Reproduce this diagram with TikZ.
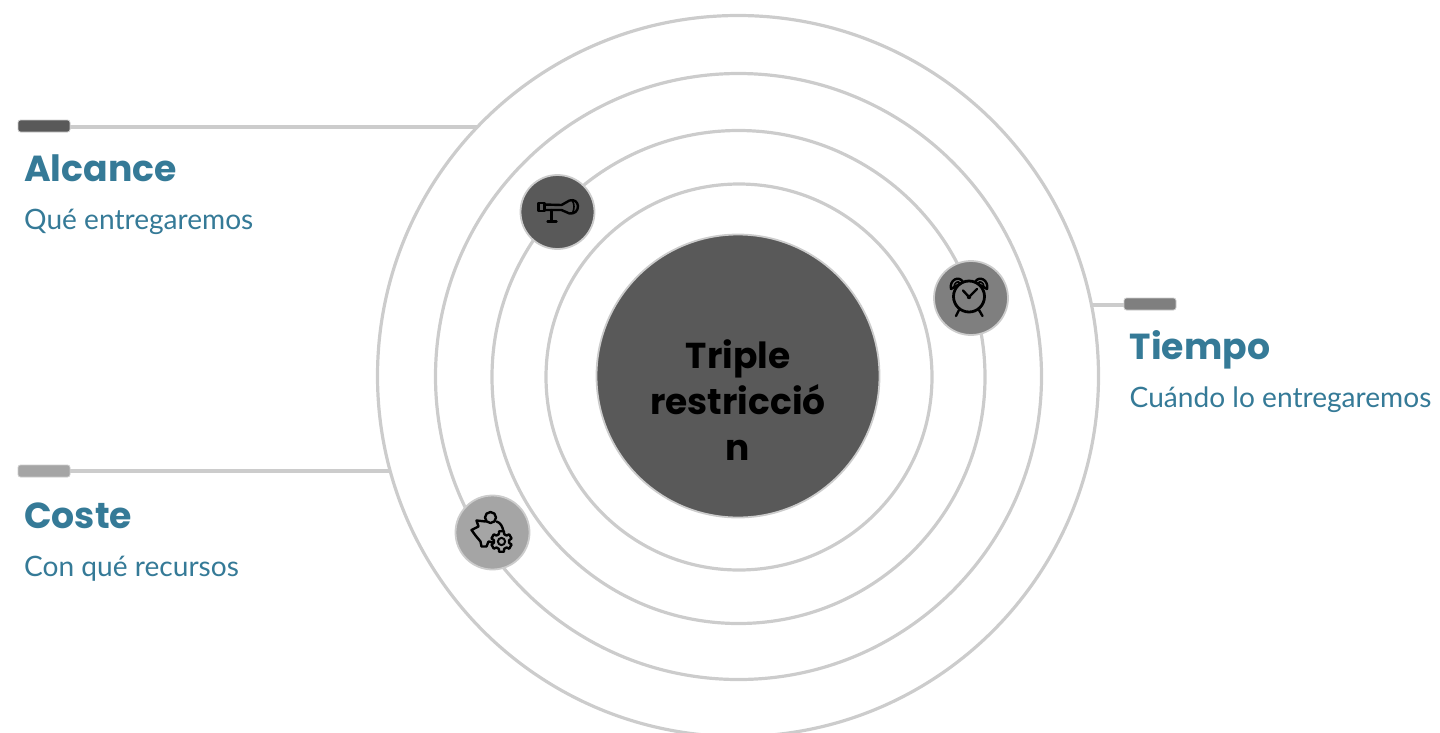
\documentclass[tikz,border=0pt]{standalone}
\usepackage{fontspec}
\setmainfont{Lato}
\newfontfamily\pop{Poppins}[BoldFont={Poppins Bold}]
\definecolor{ringc}{HTML}{CCCCCC}
\definecolor{darkg}{HTML}{595959}
\definecolor{midg}{HTML}{7F7F7F}
\definecolor{lightg}{HTML}{A5A5A5}
\definecolor{teal}{HTML}{357A97}
\tikzset{
  ring/.style={circle,draw=ringc,line width=3.2pt,minimum size=#1,inner sep=0pt},
  badge/.style={circle,draw=ringc,line width=1.8pt,minimum size=74pt,inner sep=0pt,fill=#1},
  tab/.style={rounded corners=2.5pt,draw=ringc,line width=0.8pt,fill=#1,minimum width=52pt,minimum height=12pt,inner sep=0pt},
  conn/.style={draw=ringc,line width=3.2pt},
  head/.style={anchor=base west,inner sep=0pt,text=teal,font=\pop\bfseries\fontsize{36.2}{40}\selectfont},
  sub/.style={anchor=base west,inner sep=0pt,text=teal,font=\fontsize{28.1}{32}\selectfont},
  ico/.style={draw=black,line width=2.4pt,line cap=round,line join=round}
}
\begin{document}
\begin{tikzpicture}[x=1pt,y=-1pt]
\useasboundingbox (0,0) rectangle (1440,732);
\begin{scope}
\clip (0,0) rectangle (1440,732);
\node[ring=721pt] (r4) at (738,376) {};
\node[ring=606pt] (r3) at (738.5,376.5) {};
\node[ring=493pt] (r2) at (738.5,377) {};
\node[ring=386pt] (r1) at (739,377) {};
\end{scope}
\node[circle,draw=ringc,line width=1.8pt,fill=darkg,minimum size=283pt,inner sep=0pt] (core) at (738,376) {};
\node[align=center,inner sep=0pt,font=\pop\bfseries\fontsize{36}{46}\selectfont,text=black] (corelabel) at (738,400) {Triple\\[0pt]restricció\\[0pt]n};

\coordinate (e1) at (477,127);
\coordinate (e2) at (391,471);
\coordinate (e3) at (1092,305);
\node[tab=darkg] (t1) at (44,126) {};
\node[tab=lightg] (t2) at (44,471) {};
\node[tab=midg] (t3) at (1150,304) {};
\draw[conn] (t1.east |- e1) -- (e1);
\draw[conn] (t2.east) -- (e2);
\draw[conn] (e3) -- (t3.west |- e3);

\node[head] (h1) at (24,181) {Alcance};
\node[sub] (s1) at (24,229) {Qué entregaremos};
\node[head] (h2) at (24,528) {Coste};
\node[sub] (s2) at (24,576) {Con qué recursos};
\node[head] (h3) at (1129.5,359) {Tiempo};
\node[sub] (s3) at (1129.5,407) {Cuándo lo entregaremos};

\node[badge=darkg] (b1) at (557.5,212) {};
\node[badge=midg] (b2) at (971,298) {};
\node[badge=lightg] (b3) at (492.5,532.5) {};

% telescope
\begin{scope}[shift={(b1.center)}]
\draw[ico] (-19,-9) rectangle (-13,-1);
\draw[ico] (-13,-7.5) -- (4,-7) -- (12,-11.5) .. controls (17,-13) and (20,-10) .. (20.5,-6)
  .. controls (20.5,-1) and (17,2) .. (12,1.5) -- (4,-2) -- (-13,-2);
\draw[ico,line width=1.6pt] (15,-11) .. controls (17,-8) and (17,-3) .. (15,1);
\draw[ico] (-6,-2) -- (-6,9.5);
\draw[ico] (-10,9.5) -- (-1,9.5);
\end{scope}

% alarm clock
\begin{scope}[shift={(b2.center)}]
\draw[ico,line width=2.8pt] (-2,-1.5) circle (15.5);
\draw[ico] (-8,-7.5) -- (-2,-1) -- (6,-9);
\fill (-2,-1) circle (2.2);
\draw[ico] (-12,12) -- (-15,18);
\draw[ico] (8,12) -- (11.5,18);
\draw[ico] (-20,-9) .. controls (-22,-18) and (-12,-23) .. (-8,-16);
\draw[ico] (-20,-9) -- (-8,-16);
\draw[ico,line width=1.6pt] (-17,-11) .. controls (-17,-15) and (-13,-18) .. (-11,-15);
\draw[ico] (16,-9) .. controls (18,-18) and (8,-23) .. (4,-16);
\draw[ico] (16,-9) -- (4,-16);
\draw[ico,line width=1.6pt] (13,-11) .. controls (13,-15) and (9,-18) .. (7,-15);
\end{scope}

% piggy bank with gear
\begin{scope}[shift={(b3.center)}]
\draw[ico] (-2,-15) circle (5.5);
\draw[ico] (-7,-11) -- (-16,-12) -- (-14,-6) -- (-21,-2.5) -- (-17,3) -- (-12,9) -- (-11,14) -- (-6,14) -- (-4,9) -- (1,10);
\draw[ico] (4,-11) .. controls (8,-10) and (10,-6) .. (11,-1);
\begin{scope}[shift={(9,9)}]
\draw[ico] \foreach \a in {30,90,...,330}{ (\a-13:10.5) -- (\a+13:10.5) -- (\a+20:7.8) -- (\a+40:7.8) -- (\a+47:10.5)};
\draw[ico,line width=2pt] (0,0) circle (3.6);
\end{scope}
\end{scope}
\end{tikzpicture}
\end{document}
